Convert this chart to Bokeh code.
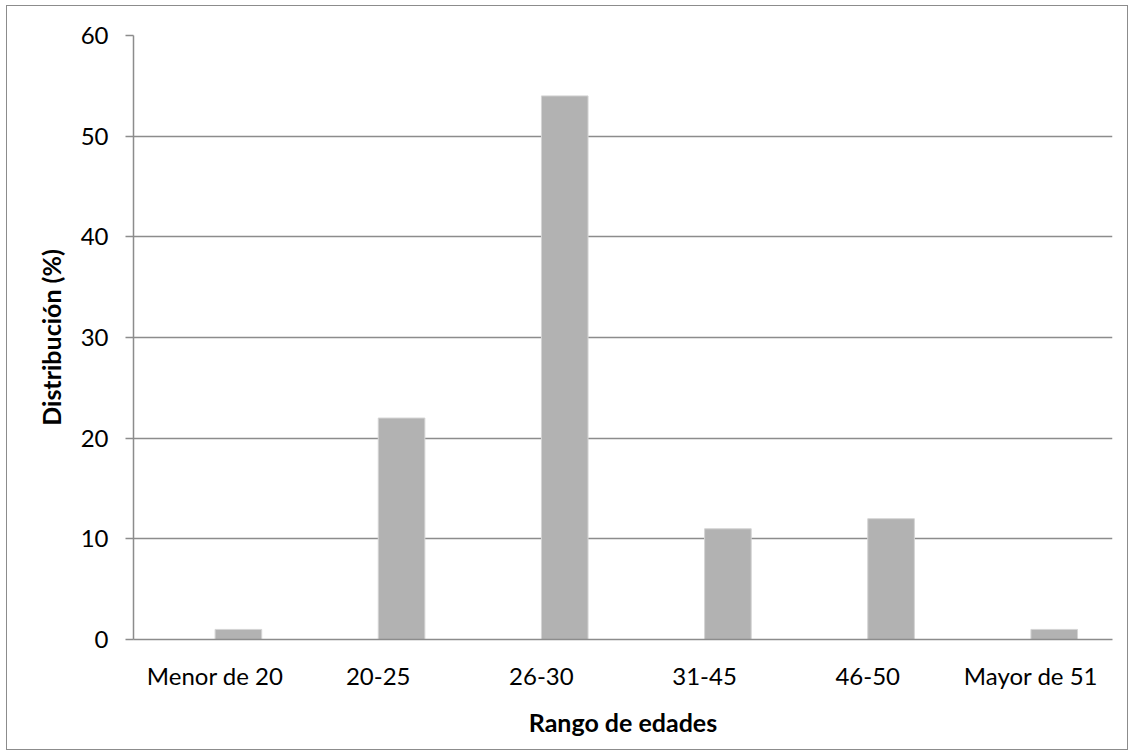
from bokeh.plotting import figure
from bokeh.models import FactorRange, Range1d, SingleIntervalTicker, ColumnDataSource
from bokeh.transform import dodge
from bokeh.embed import file_html
from bokeh.resources import INLINE

# Age ranges and share of respondents (%)
categories = ["Menor de 20", "20-25", "26-30", "31-45", "46-50", "Mayor de 51"]
values = [1, 22, 54, 11, 12, 1]

source = ColumnDataSource(data=dict(cat=categories, val=values))

FONT = "Lato"
GRID = "#8c8c8c"

p = figure(
    x_range=FactorRange(*categories, range_padding=0),
    y_range=Range1d(0, 60),
    width=1122, height=745,
    output_backend="svg", toolbar_location=None,
    min_border_left=126, min_border_right=17,
    min_border_top=29, min_border_bottom=112,
)
p.margin = (5, 0, 0, 6)
p.styles = {"border": "1.5px solid #8c8c8c", "box-sizing": "border-box"}
p.outline_line_color = None
p.background_fill_color = "white"
p.border_fill_color = "white"

# Bars sit in the right half of each category slot
p.vbar(x=dodge("cat", 0.1429, range=p.x_range), top="val", width=0.2857,
       source=source, fill_color="#b2b2b2", line_color="#d4d4d4", line_width=1)

p.yaxis.ticker = SingleIntervalTicker(interval=10)
p.ygrid.grid_line_color = GRID
p.ygrid.grid_line_width = 1.5
p.xgrid.grid_line_color = None

for ax in (p.xaxis[0], p.yaxis[0]):
    ax.axis_line_color = GRID
    ax.axis_line_width = 1.5
    ax.major_label_text_font = FONT
    ax.major_label_text_font_size = "24px"
    ax.major_label_text_color = "black"
    ax.axis_label_text_font = FONT
    ax.axis_label_text_font_style = "bold"
    ax.axis_label_text_font_size = "25px"
    ax.axis_label_text_color = "black"
    ax.minor_tick_line_color = None

p.yaxis.major_tick_line_color = GRID
p.yaxis.major_tick_line_width = 1.5
p.yaxis.major_tick_out = 8
p.yaxis.major_tick_in = 0
p.yaxis.major_label_standoff = 17
p.yaxis.axis_label = "Distribución (%)"
p.yaxis.axis_label_standoff = 12

p.xaxis.major_tick_line_color = None
p.xaxis.major_tick_out = 0
p.xaxis.major_tick_in = 0
p.xaxis.major_label_standoff = 21
p.xaxis.axis_label = "Rango de edades"
p.xaxis.axis_label_standoff = 14

open("out.html", "w").write(file_html(p, INLINE))
